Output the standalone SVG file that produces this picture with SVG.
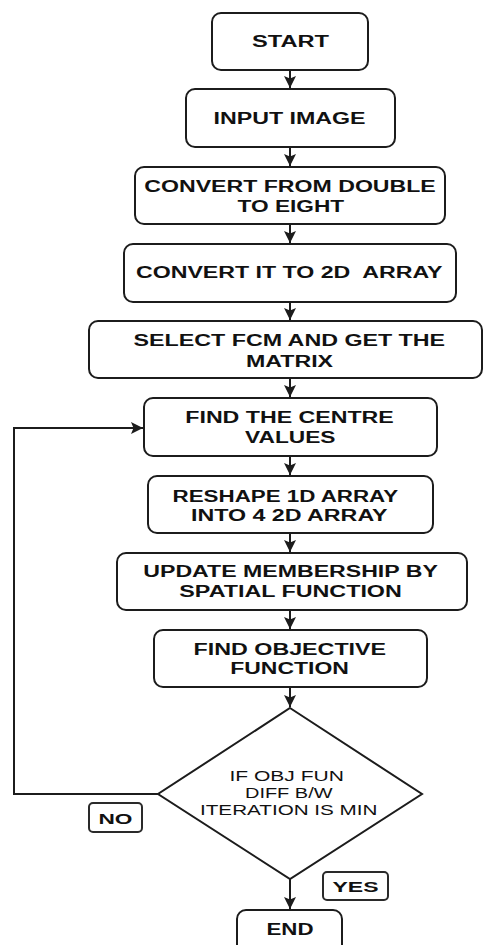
<svg xmlns="http://www.w3.org/2000/svg" width="483" height="945" viewBox="0 0 483 945">
  <style>
    .box { fill: #ffffff; stroke: #1c1c1c; stroke-width: 2; }
    .tag { fill: #ffffff; stroke: #2a2a2a; stroke-width: 2; }
    .lbl { font-family: "Liberation Sans", Arial, sans-serif; font-size: 16px; font-weight: bold; fill: #111111; }
    .small { font-family: "Liberation Sans", Arial, sans-serif; font-size: 14px; font-weight: bold; fill: #111111; }
    .dtxt { font-family: "Liberation Sans", Arial, sans-serif; font-size: 15px; fill: #111111; }
    .edge { fill: none; stroke: #1c1c1c; stroke-width: 2; }
  </style>
  <defs>
    <marker id="arrow" markerUnits="userSpaceOnUse" markerWidth="13" markerHeight="13" refX="12" refY="6" orient="auto">
      <path d="M0,0 L12,6 L0,12 L2.5,6 z" fill="#1c1c1c"/>
    </marker>
  </defs>
  <rect width="483" height="945" fill="#ffffff"/>

  <!-- connectors -->
  <g id="connectors">
    <path class="edge" d="M290,70 V88" marker-end="url(#arrow)"/>
    <path class="edge" d="M290,147 V166" marker-end="url(#arrow)"/>
    <path class="edge" d="M290,224 V243" marker-end="url(#arrow)"/>
    <path class="edge" d="M290,302 V320" marker-end="url(#arrow)"/>
    <path class="edge" d="M290,378 V397" marker-end="url(#arrow)"/>
    <path class="edge" d="M290,456 V475" marker-end="url(#arrow)"/>
    <path class="edge" d="M290,533 V552" marker-end="url(#arrow)"/>
    <path class="edge" d="M290,610 V629" marker-end="url(#arrow)"/>
    <path class="edge" d="M290,687 V707" marker-end="url(#arrow)"/>
    <path class="edge" d="M290,879 V909" marker-end="url(#arrow)"/>
    <!-- loop back when the difference is not yet minimal -->
    <path class="edge" d="M158,794 H14 V428 H143" marker-end="url(#arrow)"/>
  </g>

  <g id="start">
    <rect class="box" x="212" y="13" width="156" height="57" rx="9"/>
    <text class="lbl" x="252" y="46.7" textLength="77" lengthAdjust="spacingAndGlyphs">START</text>
  </g>
  <g id="input-image">
    <rect class="box" x="186" y="89" width="209" height="58" rx="9"/>
    <text class="lbl" x="213.5" y="124" textLength="152" lengthAdjust="spacingAndGlyphs">INPUT IMAGE</text>
  </g>
  <g id="convert-double">
    <rect class="box" x="135" y="167" width="310" height="57" rx="9"/>
    <text class="lbl" x="144.3" y="191.7" textLength="291.5" lengthAdjust="spacingAndGlyphs">CONVERT FROM DOUBLE</text>
    <text class="lbl" x="237.6" y="211.7" textLength="106.5" lengthAdjust="spacingAndGlyphs">TO EIGHT</text>
  </g>
  <g id="convert-2d">
    <rect class="box" x="124" y="244" width="332" height="58" rx="9"/>
    <text class="lbl" x="136" y="278.3" textLength="306.5" lengthAdjust="spacingAndGlyphs" xml:space="preserve">CONVERT IT TO 2D  ARRAY</text>
  </g>
  <g id="select-fcm">
    <rect class="box" x="89" y="321" width="393" height="57" rx="9"/>
    <text class="lbl" x="133.6" y="346" textLength="311.5" lengthAdjust="spacingAndGlyphs">SELECT FCM AND GET THE</text>
    <text class="lbl" x="246" y="366.7" textLength="87" lengthAdjust="spacingAndGlyphs">MATRIX</text>
  </g>
  <g id="find-centre">
    <rect class="box" x="144" y="398" width="293" height="58" rx="9"/>
    <text class="lbl" x="185.3" y="423.3" textLength="208.5" lengthAdjust="spacingAndGlyphs">FIND THE CENTRE</text>
    <text class="lbl" x="245" y="443.3" textLength="90.5" lengthAdjust="spacingAndGlyphs">VALUES</text>
  </g>
  <g id="reshape">
    <rect class="box" x="148" y="476" width="285" height="57" rx="9"/>
    <text class="lbl" x="172.6" y="501.7" textLength="225.5" lengthAdjust="spacingAndGlyphs">RESHAPE 1D ARRAY</text>
    <text class="lbl" x="191" y="520.7" textLength="196.5" lengthAdjust="spacingAndGlyphs">INTO 4 2D ARRAY</text>
  </g>
  <g id="update-membership">
    <rect class="box" x="117" y="553" width="350" height="57" rx="9"/>
    <text class="lbl" x="143.3" y="577.3" textLength="294.5" lengthAdjust="spacingAndGlyphs">UPDATE MEMBERSHIP BY</text>
    <text class="lbl" x="179.3" y="597.3" textLength="222.5" lengthAdjust="spacingAndGlyphs">SPATIAL FUNCTION</text>
  </g>
  <g id="objective">
    <rect class="box" x="154" y="630" width="273" height="57" rx="9"/>
    <text class="lbl" x="193.6" y="655" textLength="192.5" lengthAdjust="spacingAndGlyphs">FIND OBJECTIVE</text>
    <text class="lbl" x="230.3" y="674.3" textLength="118.5" lengthAdjust="spacingAndGlyphs">FUNCTION</text>
  </g>
  <g id="decision">
    <polygon class="box" points="290,708 422,794 290,879 158,794"/>
    <text class="dtxt" x="229.4" y="781" textLength="114.5" lengthAdjust="spacingAndGlyphs">IF OBJ FUN</text>
    <text class="dtxt" x="245" y="797.5" textLength="87.5" lengthAdjust="spacingAndGlyphs">DIFF B/W</text>
    <text class="dtxt" x="200" y="815" textLength="177.5" lengthAdjust="spacingAndGlyphs">ITERATION IS MIN</text>
  </g>
  <g id="label-no">
    <rect class="tag" x="89" y="803" width="53" height="29" rx="4"/>
    <text class="small" x="98.5" y="824" textLength="34" lengthAdjust="spacingAndGlyphs">NO</text>
  </g>
  <g id="label-yes">
    <rect class="tag" x="323" y="872" width="65" height="28" rx="4"/>
    <text class="small" x="332.5" y="892" textLength="46" lengthAdjust="spacingAndGlyphs">YES</text>
  </g>
  <g id="end">
    <rect class="box" x="237" y="910" width="105" height="60" rx="9"/>
    <text class="lbl" x="266.5" y="935" textLength="47" lengthAdjust="spacingAndGlyphs">END</text>
  </g>
</svg>
